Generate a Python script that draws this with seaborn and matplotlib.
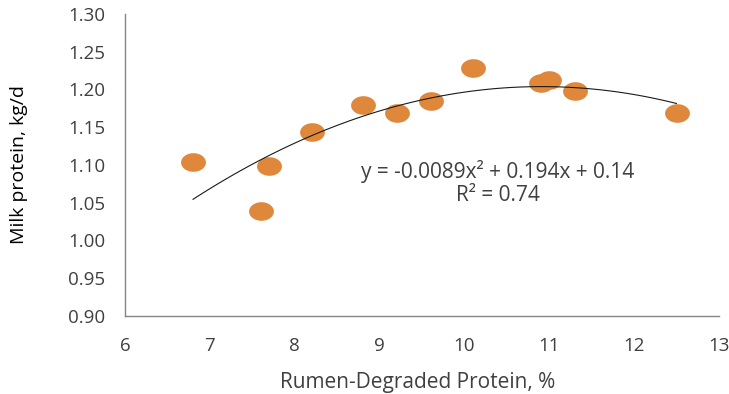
import numpy as np
import pandas as pd
import matplotlib.pyplot as plt
from matplotlib.path import Path
import seaborn as sns

sns.set_style("white")
plt.rcParams["font.family"] = ["Open Sans", "DejaVu Sans"]

rdp = [6.8, 7.6, 7.7, 8.2, 8.8, 9.2, 9.6, 10.1, 10.9, 11.0, 11.3, 12.5]
milk_protein = [1.104, 1.039, 1.098, 1.143, 1.179, 1.169, 1.184, 1.228,
                1.208, 1.213, 1.198, 1.169]
equation = "y = -0.0089x\u00b2 + 0.194x + 0.14"
r_squared = "R\u00b2 = 0.74"

df = pd.DataFrame({"rdp": rdp, "milk": milk_protein})

# Excel-style flattened dot
t = np.linspace(0, 2 * np.pi, 60)
ellipse = Path(np.column_stack([np.cos(t), 0.75 * np.sin(t)]), closed=True)

grey = "#868686"
txt = "#404040"

fig = plt.figure(figsize=(7.29, 3.94), dpi=100)
ax = fig.add_axes([0.1715, 0.1987, 0.8148, 0.7658])

sns.regplot(data=df, x="rdp", y="milk", order=2, ci=None, ax=ax,
            marker=ellipse,
            scatter_kws={"s": 320, "color": "#DF883C", "alpha": 1,
                         "linewidths": 0, "zorder": 2},
            line_kws={"color": "#1a1a1a", "linewidth": 0.8, "zorder": 3})

ax.set_xlim(6, 13)
ax.set_ylim(0.90, 1.30)
ax.set_xticks(range(6, 14))
ax.set_yticks(np.arange(0.90, 1.301, 0.05))
ax.yaxis.set_major_formatter(plt.FormatStrFormatter("%.2f"))

for side in ["top", "right"]:
    ax.spines[side].set_visible(False)
for side in ["left", "bottom"]:
    ax.spines[side].set_color(grey)
    ax.spines[side].set_linewidth(1)
ax.tick_params(axis="both", direction="out", width=1, color=grey,
               labelsize=13.5, labelcolor=txt)
ax.tick_params(axis="x", length=5, pad=10)
ax.tick_params(axis="y", length=6, pad=8)

ax.set_xlabel("Rumen-Degraded Protein, %", fontsize=15, color=txt, va="center")
ax.xaxis.set_label_coords(0.493, -0.223)
ax.set_ylabel("Milk protein, kg/d", fontsize=14, color="black", va="center")
ax.yaxis.set_label_coords(-0.178, 0.5)

ax.text(10.39, 1.091, equation, ha="center", va="center", fontsize=15, color=txt)
ax.text(10.39, 1.059, r_squared, ha="center", va="center", fontsize=15, color=txt)

fig.savefig("out.png", dpi=100)
